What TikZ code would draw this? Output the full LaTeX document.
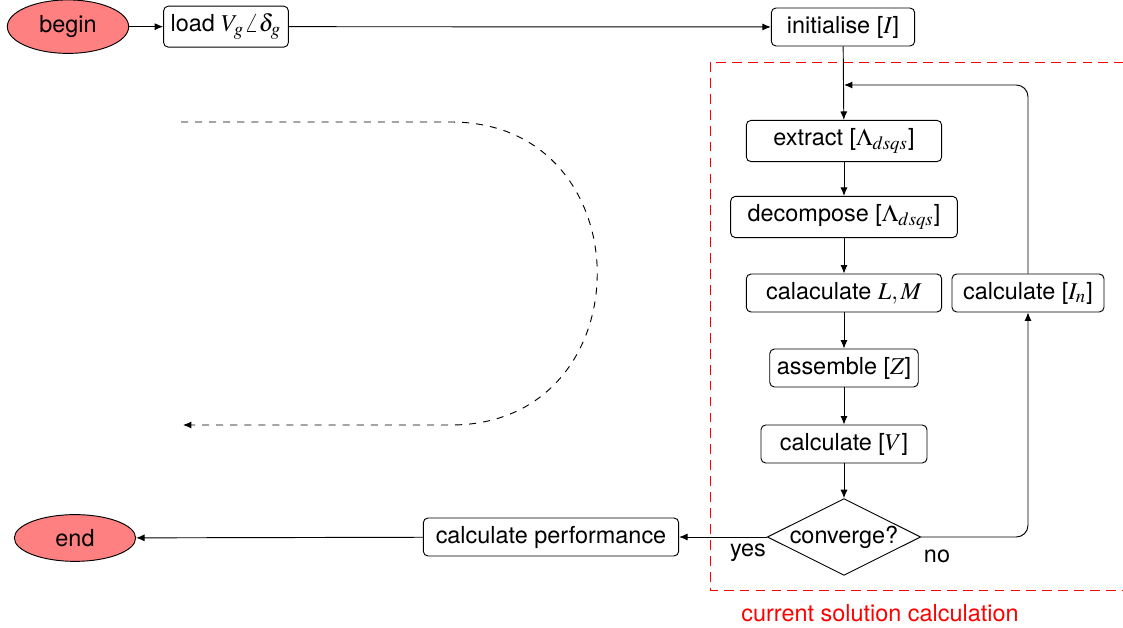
\documentclass[tikz,border=0pt]{standalone}
\usepackage{mathptmx}
\usepackage{fontspec}
\setmainfont{TeX Gyre Heros}
\DeclareMathSizes{10}{10.3}{8}{6}
\usetikzlibrary{shapes.geometric,arrows.meta}

\begin{document}
\begin{tikzpicture}[
    box/.style={shape=rectangle,draw=black,rounded corners=2pt,minimum height=0.57cm,inner xsep=3pt},
    term/.style={shape=ellipse,draw=black,fill=red!50,minimum width=1.82cm,minimum height=0.62cm},
    test/.style={shape=diamond,draw=black,aspect=2,inner sep=0pt,minimum width=2.24cm,minimum height=1.13cm},
    arr/.style={-{Latex[length=3.6pt,width=3pt]}}
  ]
  \useasboundingbox (0,0) rectangle (16.845,-9.42);

  \node[term] (begin) at (1.02,-0.4) {begin};
  \node[box,minimum width=1.82cm] (load) at (3.39,-0.4) {load $V_g\angle\delta_g$};
  \node[box,minimum width=2.15cm] (init) at (12.645,-0.405) {initialise [$I$]};

  \node[box,minimum width=2.93cm] (extract) at (12.66,-2.115) {extract [$\Lambda_{dsqs}$]};
  \node[box,minimum width=3.4cm] (decomp) at (12.66,-3.255) {decompose [$\Lambda_{dsqs}$]};
  \node[box,minimum width=2.93cm] (calcLM) at (12.66,-4.395) {calaculate $L,M$};
  \node[box,minimum width=2.28cm] (calcIn) at (15.42,-4.395) {calculate [$I_n$]};
  \node[box] (assemble) at (12.66,-5.52) {assemble [$Z$]};
  \node[box,minimum width=2.49cm] (calcV) at (12.66,-6.66) {calculate [$V$]};
  \node[test] (conv) at (12.66,-8.055) {converge?};

  \node[box,minimum width=3.83cm] (perf) at (8.265,-8.055) {calculate performance};
  \node[term] (end) at (1.125,-8.07) {end};

  \node (yes) at (11.22,-8.29) {yes};
  \node (no) at (14.055,-8.34) {no};

  % current solution block
  \draw[red,dash pattern=on 4.2pt off 2.6pt] (10.65,-0.93) rectangle (16.95,-8.85);
  \node[red] (blocklabel) at (13.2,-9.195) {current solution calculation};

  \coordinate (loop) at (12.66,-1.275);
  \coordinate (ds) at (2.715,-1.83);
  \coordinate (de) at (2.745,-6.375);

  \path[arr] (begin) edge (load);
  \path[arr] (load) edge (init);
  \path[arr] (init) edge (extract);
  \path[arr] (extract) edge (decomp);
  \path[arr] (decomp) edge (calcLM);
  \path[arr] (calcLM) edge (assemble);
  \path[arr] (assemble) edge (calcV);
  \path[arr] (calcV) edge (conv);
  \path[arr] (conv) edge (perf);
  \path[arr] (perf) edge (end);

  \draw[arr,rounded corners=5pt] (conv.east) -| (calcIn.south);
  \draw[arr,rounded corners=5pt] (calcIn.north) |- (loop);

  \draw[arr,dashed] (ds) -- (6.765,-1.83) .. controls (9.69,-1.83) and (9.69,-6.375) .. (6.765,-6.375) -- (de);
\end{tikzpicture}
\end{document}
